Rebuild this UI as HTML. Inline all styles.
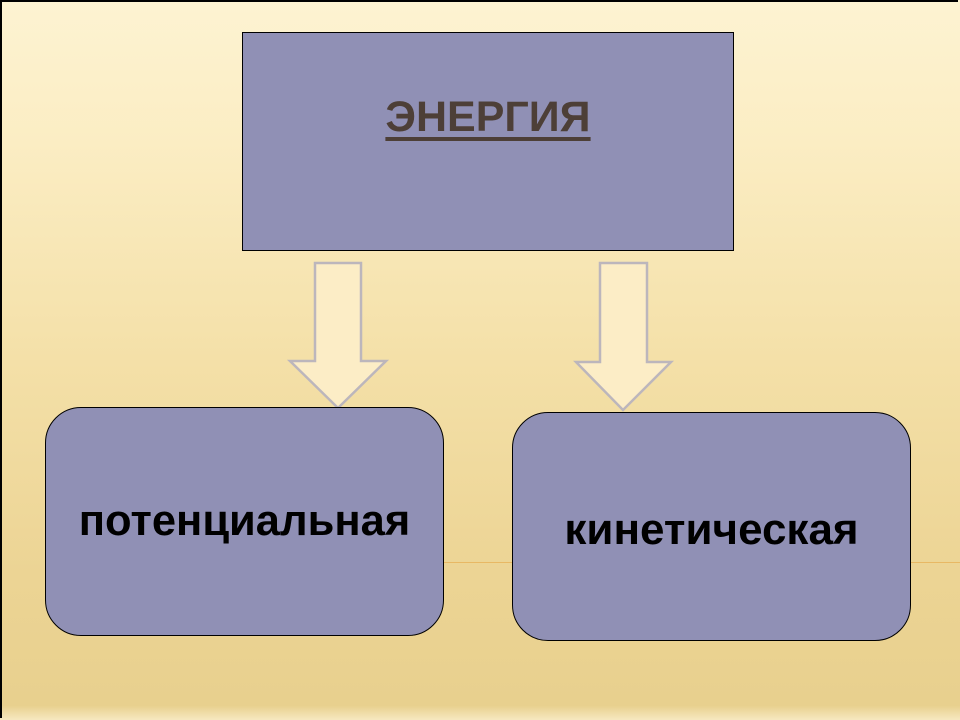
<!DOCTYPE html>
<html><head><meta charset="utf-8"><style>
html,body{margin:0;padding:0}
body{width:960px;height:720px;position:relative;overflow:hidden;
background:linear-gradient(180deg,#fdf3d2 0%,#fbedc3 20%,#f4e0a8 50%,#ecd494 80%,#e8d08e 98%,#f6e8c0 100%);
font-family:"Liberation Sans",sans-serif;}
.frame{position:absolute;left:0;top:0;width:958px;height:718px;border-left:2px solid #000;border-top:2px solid #000;box-sizing:border-box}
.box{position:absolute;background:#9090b5;border:1.5px solid #000;box-sizing:border-box;display:flex;justify-content:center;font-weight:bold}
.line{position:absolute;left:443px;right:0;top:562px;height:1px;background:#e8b864}
</style></head><body>
<div class="frame"></div>
<div class="line"></div>
<div class="box" style="left:242px;top:32px;width:492px;height:219px;align-items:flex-start">
<span style="margin-top:60px;font-size:43px;color:#4d3f37;text-decoration:underline;text-decoration-thickness:4px;text-underline-offset:6px">ЭНЕРГИЯ</span></div>
<svg width="960" height="720" style="position:absolute;left:0;top:0">
<polygon points="315,263 361,263 361,361 386,361 338,408 290,361 315,361" fill="#fcedc6" stroke="#bcb6bc" stroke-width="2.5"/>
<polygon points="600,263 647,263 647,362 671,362 623,410 576,362 600,362" fill="#fcedc6" stroke="#bcb6bc" stroke-width="2.5"/>
</svg>
<div class="box" style="left:45px;top:407px;width:399px;height:229px;border-radius:36px;align-items:center">
<span style="font-size:43.5px;color:#000;margin-top:0px">потенциальная</span></div>
<div class="box" style="left:512px;top:412px;width:399px;height:229px;border-radius:36px;align-items:center">
<span style="font-size:44px;color:#000;margin-top:6px">кинетическая</span></div>
</body></html>
